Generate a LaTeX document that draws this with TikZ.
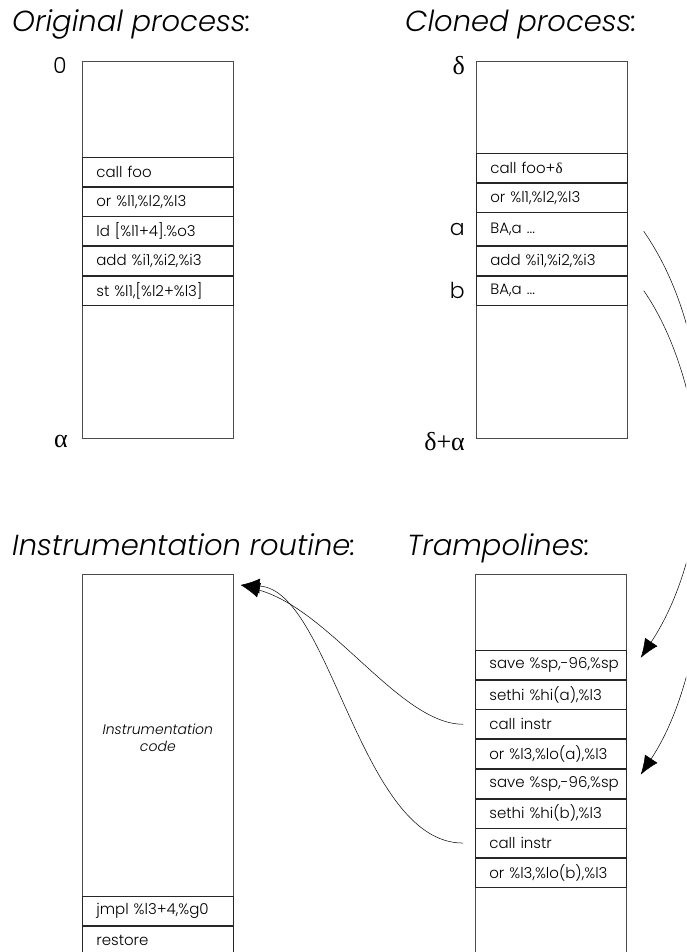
\documentclass[tikz,border=0pt]{standalone}
\usepackage{fontspec}
\setmainfont{Poppins}[UprightFont=* Light, ItalicFont=* Light Italic]
\newfontfamily\symfont{Liberation Serif}
\usetikzlibrary{arrows.meta,positioning}

\newcommand\titlefont{\fontsize{29}{33}\selectfont\itshape}
\newcommand\cellfont{\fontsize{15}{18}\selectfont}
\newcommand\addrfont{\fontsize{22}{24}\selectfont}
\newcommand\greek[1]{{\symfont\fontsize{26}{28}\selectfont #1}}

\tikzset{
  frame/.style={draw=black!70, line width=0.7pt, minimum width=151pt, minimum height=#1, anchor=north west, inner sep=0pt},
  cell/.style={draw=black!85, line width=0.7pt, minimum height=#1, text width=123pt, inner xsep=14pt, inner ysep=0pt, align=left, font=\cellfont,
    execute at begin node=\hbox\bgroup, execute at end node=\egroup},
  cell/.default=29pt,
  heading/.style={anchor=base west, font=\titlefont, inner sep=0pt},
  addr/.style={font=\addrfont, inner sep=0pt},
  jump/.style={line width=0.5pt, -{Latex[length=19pt,width=15pt]}}
}

\begin{document}
\begin{tikzpicture}[x=1pt,y=1pt]
  \useasboundingbox (0,0) rectangle (686,-952);
  \clip (0,0) rectangle (686,-952);

  % headings
  \node[heading] (hOrig) at (12,-32) {Original process:};
  \node[heading] (hClone) at (405,-32) {Cloned process:};
  \node[heading] (hInstr) at (12,-555) {Instrumentation routine:};
  \node[heading] (hTramp) at (407,-555) {Trampolines:};

  % original process
  \node[frame=377pt] (orig) at (82,-61) {};
  \node[cell, below=96pt of orig.north] (o1) {call foo};
  \node[cell, below=0pt of o1] (o2) {or \%l1,\%l2,\%l3};
  \node[cell, below=0pt of o2] (o3) {ld [\%l1+4].\%o3};
  \node[cell, below=0pt of o3] (o4) {add \%i1,\%i2,\%i3};
  \node[cell, below=0pt of o4] (o5) {st \%l1,[\%l2+\%l3]};
  \node[addr, left=15pt of orig.north west, yshift=-5pt] (l0) {0};
  \node[addr, left=14pt of orig.south west, yshift=-3pt] (lAlpha) {\greek{α}};

  % cloned process
  \node[frame=377pt] (clone) at (476,-61) {};
  \node[cell, below=92pt of clone.north] (c1) {call foo+{\symfont δ}};
  \node[cell, below=0pt of c1] (c2) {or \%l1,\%l2,\%l3};
  \node[cell=33pt, below=0pt of c2] (cA) {BA,a ...};
  \node[cell, below=0pt of cA] (c4) {add \%i1,\%i2,\%i3};
  \node[cell, below=0pt of c4] (cB) {BA,a ...};
  \node[addr, left=11pt of clone.north west, yshift=-5pt] (lDelta) {\greek{δ}};
  \node[addr, left=11pt of cA.west] (la) {a};
  \node[addr, left=11pt of cB.west] (lb) {b};
  \node[addr, left=11pt of clone.south west, yshift=-3pt] (lEnd) {\greek{δ+α}};

  % instrumentation routine
  \node[frame=400pt] (ins) at (82,-574) {};
  \node[align=center, font=\fontsize{14}{17}\selectfont\itshape, below=146pt of ins.north] (insCode) {Instrumentation\\code};
  \node[cell, below=322pt of ins.north] (i1) {jmpl \%l3+4,\%g0};
  \node[cell, below=0pt of i1] (i2) {restore};

  % trampolines
  \node[frame=400pt] (tramp) at (475,-574) {};
  \node[cell, below=76pt of tramp.north] (tS1) {save \%sp,-96,\%sp};
  \node[cell, below=0pt of tS1] (t2) {sethi \%hi(a),\%l3};
  \node[cell, below=0pt of t2] (tC1) {call instr};
  \node[cell, below=0pt of tC1] (t4) {or \%l3,\%lo(a),\%l3};
  \node[cell, below=0pt of t4] (tS2) {save \%sp,-96,\%sp};
  \node[cell, below=0pt of tS2] (t6) {sethi \%hi(b),\%l3};
  \node[cell, below=0pt of t6] (tC2) {call instr};
  \node[cell, below=0pt of tC2] (t8) {or \%l3,\%lo(b),\%l3};

  % branches to the trampolines
  \draw[jump] ([xshift=16pt,yshift=-2pt]cA.east) .. controls +(80,-115) and +(77,116) .. ([xshift=14pt,yshift=7pt]tS1.east);
  \draw[jump] ([xshift=16pt]cB.east) .. controls +(80,-115) and +(82,124) .. ([xshift=14pt,yshift=9pt]tS2.east);

  % calls into the routine
  \draw[jump] ([xshift=-12pt]tC1.west) .. controls +(-63,0) and +(90,-25) .. ([xshift=7pt,yshift=-11pt]ins.north east);
  \draw[jump] ([xshift=-12pt]tC2.west) .. controls +(-103,0) and +(90,-5) .. ([xshift=7pt,yshift=-11pt]ins.north east);
\end{tikzpicture}
\end{document}
